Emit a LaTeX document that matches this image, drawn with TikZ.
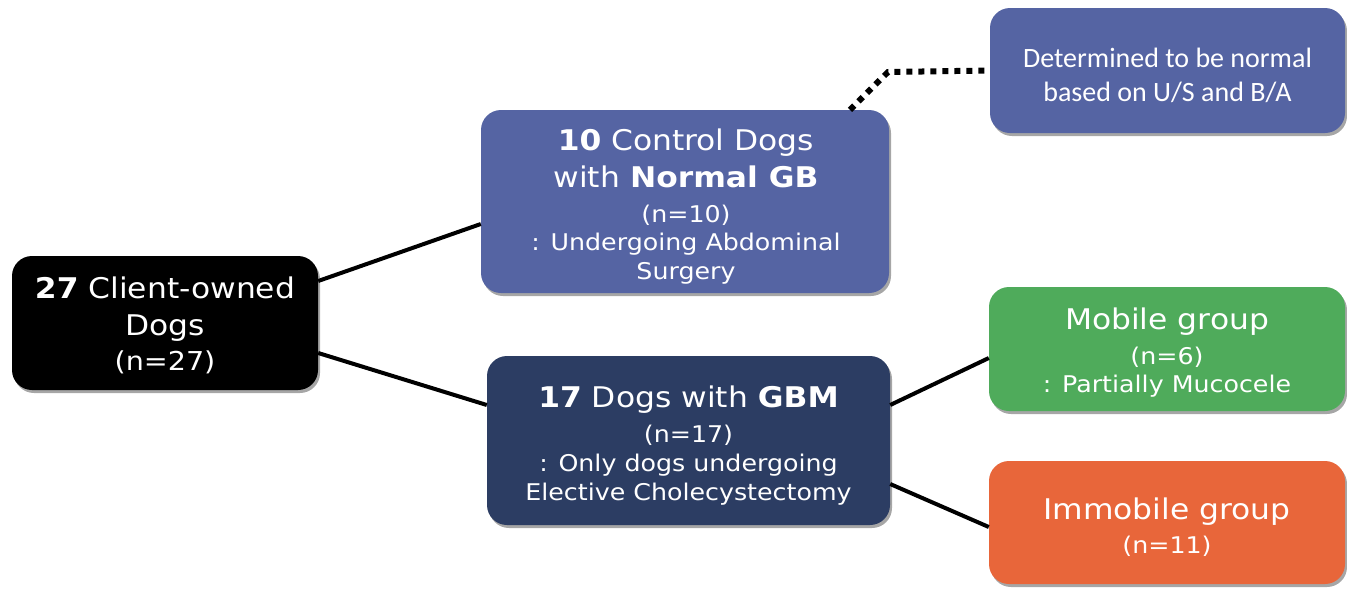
\documentclass[tikz,border=0pt]{standalone}
\usepackage{fontspec}
\setmainfont{DejaVu Sans}[FakeStretch=1.10]
\newfontfamily\calib{Carlito}
\usetikzlibrary{shadows}
\definecolor{ctrlblue}{HTML}{5564A3}
\definecolor{navy}{HTML}{2C3D63}
\definecolor{mgreen}{HTML}{4FAB5B}
\definecolor{morange}{HTML}{E8663A}
\newcommand{\bigline}[1]{{\fontsize{28.5}{30}\selectfont #1}}
\begin{document}
\begin{tikzpicture}[x=1pt,y=-1pt,
  box/.style={rounded corners=20pt, inner sep=0pt,
    drop shadow={shadow xshift=2pt, shadow yshift=-3pt, opacity=0.35, fill=black}},
  txt/.style={text=white, align=center, inner sep=0pt, font=\fontsize{23}{29}\selectfont},
  link/.style={line width=4pt, black},
  dotlink/.style={line width=6pt, black, dash pattern=on 6pt off 6pt}]
\useasboundingbox (0,0) rectangle (1347,590);

% boxes
\node[box, fill=black, minimum width=306pt, minimum height=134pt] (root) at (165,323) {};
\node[box, fill=ctrlblue, minimum width=408pt, minimum height=183pt] (ctrl) at (685,201.5) {};
\node[box, fill=navy, minimum width=403pt, minimum height=169pt] (gbm) at (688.5,440.5) {};
\node[box, fill=ctrlblue, minimum width=355pt, minimum height=125pt] (note) at (1167.5,70.5) {};
\node[box, fill=mgreen, minimum width=356pt, minimum height=124pt] (mob) at (1167,349) {};
\node[box, fill=morange, minimum width=356pt, minimum height=123pt] (imm) at (1167,522.5) {};

% texts
\node[txt, font=\fontsize{28.5}{37}\selectfont] (rootT) at (165,325.5)
  {\textbf{27} Client-owned\\ Dogs\\[-2pt] {\fontsize{26}{30}\selectfont (n=27)}};
\node[txt] (ctrlT) at (686,206.5)
  {\bigline{\textbf{10} Control Dogs}\\[8pt] \bigline{with \textbf{Normal GB}}\\[6pt]
   (n=10)\\[-1pt] : Undergoing Abdominal\\ Surgery};
\node[txt] (gbmT) at (688.5,445.5)
  {\bigline{\textbf{17} Dogs with \textbf{GBM}}\\[6pt]
   (n=17)\\ : Only dogs undergoing\\ Elective Cholecystectomy};
\node[txt, font=\calib\fontsize{28}{34}\selectfont] (noteT) at (1167.5,75.5)
  {Determined to be normal\\ based on U/S and B/A};
\node[txt, font=\fontsize{23}{28}\selectfont] (mobT) at (1167,353)
  {\bigline{Mobile group}\\[7pt] (n=6)\\ : Partially Mucocele};
\node[txt, font=\fontsize{23}{28}\selectfont] (immT) at (1167,527.5)
  {\bigline{Immobile group}\\[6pt] (n=11)};

% connectors
\draw[link] (root.east |- 0,281) -- (ctrl.west |- 0,224);
\draw[link] (root.east |- 0,353) -- (gbm.west |- 0,405);
\draw[link] (gbm.east |- 0,405) -- (mob.west |- 0,358);
\draw[link] (gbm.east |- 0,484) -- (imm.west |- 0,527);

\coordinate (bend) at (888,72);
\draw[dotlink] (850,0 |- ctrl.north) -- (bend) -- (note.west);
\end{tikzpicture}
\end{document}
